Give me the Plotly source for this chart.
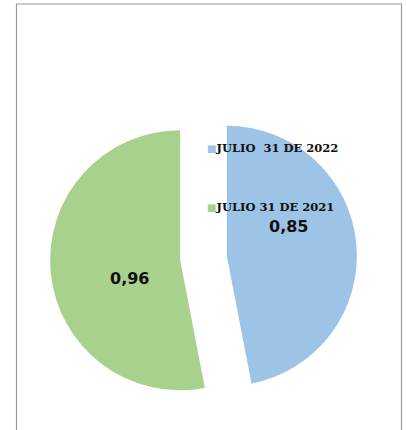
import plotly.graph_objects as go

# data
labels = ["JULIO  31 DE 2022", "JULIO 31 DE 2021"]
values = [0.85, 0.96]
colors = ["#9DC3E6", "#A9D18E"]

# positions of the value labels and legend rows (pixels in the 406x430 page)
W, H = 406, 430
value_pos = [(288, 226), (129, 278)]
legend_pos = [(205, 148), (205, 207)]


def px(x, y):
    return x / W, 1 - y / H


fig = go.Figure()

fig.add_trace(go.Pie(
    labels=labels,
    values=values,
    marker=dict(colors=colors, line=dict(width=0)),
    sort=False,
    direction='clockwise',
    rotation=0,
    pull=[0.18, 0.18],
    textinfo='none',
    hoverinfo='label+value',
    showlegend=False,
    domain=dict(x=[50 / W, 357 / W], y=[1 - 411.5 / H, 1 - 104.5 / H]),
))

annotations = []
for v, (x, y) in zip(values, value_pos):
    ax, ay = px(x, y)
    annotations.append(dict(
        x=ax, y=ay, xref='paper', yref='paper',
        text="<b>" + f"{v:.2f}".replace('.', ',') + "</b>",
        showarrow=False,
        font=dict(family="DejaVu Sans", size=16, color="#111111"),
        xanchor='center', yanchor='middle',
    ))

for lab, c, (x, y) in zip(labels, colors, legend_pos):
    ax, ay = px(x, y)
    annotations.append(dict(
        x=ax, y=ay, xref='paper', yref='paper',
        text=f"<span style='color:{c};font-size:10px'>■</span><b>{lab.replace('  ', '&nbsp; ')}</b>",
        showarrow=False,
        font=dict(family="DejaVu Serif", size=11.5, color="#111111"),
        xanchor='left', yanchor='middle',
    ))

fig.update_layout(
    width=W,
    height=H,
    margin=dict(l=0, r=0, t=0, b=0),
    paper_bgcolor='white',
    plot_bgcolor='white',
    annotations=annotations,
    shapes=[dict(
        type='rect', xref='paper', yref='paper',
        x0=16.5 / W, x1=401.5 / W, y0=-0.05, y1=1 - 4 / H,
        line=dict(color='#9A9A9A', width=1.2),
        fillcolor='rgba(0,0,0,0)',
        layer='below',
    )],
)

# drop the default body margin so the figure sits at the page corner
fig.write_html("out.html", config={'displayModeBar': False},
               post_script="document.body.style.margin='0';")
